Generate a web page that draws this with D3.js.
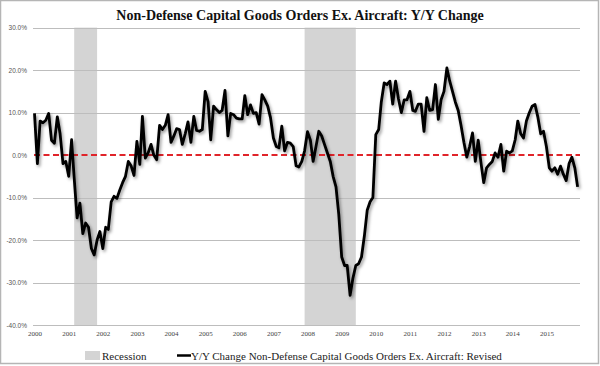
<!DOCTYPE html>
<html><head><meta charset="utf-8">
<script src="https://cdn.jsdelivr.net/npm/d3@7"></script>
<style>html,body{margin:0;padding:0;background:#fff;}svg{display:block;}</style>
</head><body>
<svg id="chart" width="600" height="366"></svg>
<script>
const title = "Non-Defense Capital Goods Orders Ex. Aircraft: Y/Y Change";
const seriesName = "Y/Y Change Non-Defense Capital Goods Orders Ex. Aircraft: Revised";
const recessionName = "Recession";
const startMonth = "2000-01";
// monthly Y/Y % change, Jan 2000 onward
const values = [
 9.8,-2.0,8.0,7.6,8.2,9.8,3.5,2.8,9.0,5.0,-2.0,-1.5,
 -5.0,3.6,-5.5,-14.8,-11.3,-18.5,-16.0,-17.0,-22.0,-23.5,-20.0,-18.0,
 -22.0,-17.0,-17.5,-11.0,-9.7,-10.2,-8.3,-6.5,-5.0,-1.5,-2.6,-4.8,
 3.2,-2.2,9.1,-0.7,0.5,2.5,0.0,-1.1,7.0,6.0,7.0,9.5,
 3.0,4.5,6.2,6.0,2.5,5.0,7.8,3.0,9.1,5.8,5.6,6.0,
 15.0,12.5,3.6,11.5,10.7,10.0,10.5,15.2,4.5,9.8,9.5,8.7,
 8.5,8.5,14.0,9.5,11.8,9.8,10.0,7.3,14.2,13.0,11.5,8.8,
 4.0,2.0,1.7,6.8,1.0,3.0,2.8,2.0,-2.5,-2.8,-1.5,1.0,
 5.5,3.5,-1.5,2.0,5.6,4.5,2.5,0.5,-1.5,-5.0,-7.5,-14.0,
 -24.0,-26.0,-26.0,-33.0,-29.0,-26.0,-25.6,-24.0,-19.0,-13.0,-11.0,-10.0,
 4.8,6.0,12.5,17.0,16.6,17.4,12.0,17.4,13.2,10.0,13.0,13.0,
 15.0,10.5,10.3,12.0,12.0,5.6,13.5,10.5,10.7,16.6,8.4,13.0,
 15.0,20.5,17.5,15.0,12.5,10.5,7.0,3.0,-0.5,2.0,5.2,-1.5,
 3.5,-2.0,-6.5,-3.0,-2.2,-1.5,0.5,-0.5,2.5,-3.8,0.9,0.5,
 1.0,3.6,8.0,5.0,4.0,8.0,9.9,11.5,11.9,9.0,5.0,5.6,
 2.0,-3.0,-3.8,-3.0,-4.5,-2.6,-4.5,-6.0,-2.0,-0.5,-3.0,-7.5
];
const recessionStarts = ["2001-03","2007-12"];
const recessionEnds = ["2001-11","2009-06"];
const yTicks = [30,20,10,0,-10,-20,-30,-40];
const yTickLabels = ["30.0%","20.0%","10.0%","0.0%","-10.0%","-20.0%","-30.0%","-40.0%"];
const xTickLabels = ["2000","2001","2002","2003","2004","2005","2006","2007","2008","2009","2010","2011","2012","2013","2014","2015"];

const parseM = d3.timeParse("%Y-%m");
const t0 = parseM(startMonth);
const data = values.map((v,i)=>({date:d3.timeMonth.offset(t0,i), v}));

const svg = d3.select("#chart");
const defs = svg.append("defs");
const f = defs.append("filter").attr("id","sh").attr("x","-10%").attr("y","-10%").attr("width","120%").attr("height","120%");
f.append("feDropShadow").attr("dx",1.5).attr("dy",2).attr("stdDeviation",1.4).attr("flood-color","#000").attr("flood-opacity",0.4);

const x = d3.scaleTime().domain([t0, parseM("2016-01")]).range([34.5, 580.5]);
const y = d3.scaleLinear().domain([-40,30]).range([325,27.6]);

// frame
svg.append("rect").attr("x",0.5).attr("y",0.5).attr("width",598).attr("height",363)
  .attr("fill","none").attr("stroke","#b5b5b5").attr("stroke-width",1.5);

// title
svg.append("text").attr("x",300).attr("y",20).attr("text-anchor","middle")
  .attr("font-family","Liberation Serif, serif").attr("font-weight","bold").attr("font-size",14)
  .attr("fill","#111").text(title);

// recession bands
svg.append("g").selectAll("rect").data(recessionStarts).join("rect")
  .attr("x",(d)=>x(parseM(d)))
  .attr("width",(d,i)=>x(parseM(recessionEnds[i]))-x(parseM(d)))
  .attr("y",y(30)).attr("height",y(-40)-y(30))
  .attr("fill","#d4d4d4");

// gridlines
svg.append("g").selectAll("line").data(yTicks.filter(v=>v!==0)).join("line")
  .attr("x1",33).attr("x2",580).attr("y1",d=>Math.round(y(d))+0.5).attr("y2",d=>Math.round(y(d))+0.5)
  .attr("stroke","#bdbdbd").attr("stroke-width",1);

// y labels
const yAxis = d3.axisLeft(y).tickValues(yTicks).tickSize(0).tickPadding(0)
  .tickFormat((d,i)=>yTickLabels[i]);
const gy = svg.append("g").attr("transform","translate(27,0)").call(yAxis);
gy.select(".domain").remove();
gy.selectAll("text").attr("font-family","Liberation Sans, Arial, sans-serif").attr("font-size",6.5).attr("fill","#555");

// x labels
const xAxis = d3.axisBottom(x).tickValues(xTickLabels.map(s=>parseM(s+"-01"))).tickSize(0).tickPadding(0)
  .tickFormat((d,i)=>xTickLabels[i]);
const gx = svg.append("g").attr("transform","translate(0,331)").call(xAxis);
gx.select(".domain").remove();
gx.selectAll("text").attr("font-family","Liberation Serif, serif").attr("font-size",7).attr("fill","#444");

// zero dashed line
svg.append("line").attr("x1",34).attr("x2",580).attr("y1",y(0)).attr("y2",y(0))
  .attr("stroke","#e0242a").attr("stroke-width",2).attr("stroke-dasharray","6,3.5");

// series line
const line = d3.line().x(d=>x(d.date)).y(d=>y(d.v)).curve(d3.curveLinear);
svg.append("path").datum(data).attr("d",line).attr("fill","none")
  .attr("stroke","#000").attr("stroke-width",2.8).attr("stroke-linejoin","round")
  .attr("filter","url(#sh)");

// legend
const lg = svg.append("g").attr("font-family","Liberation Serif, serif").attr("font-size",11).attr("fill","#222");
lg.append("rect").attr("x",85).attr("y",351).attr("width",15).attr("height",9).attr("fill","#d4d4d4");
lg.append("text").attr("x",102).attr("y",359.5).text(recessionName);
lg.append("line").attr("x1",177).attr("x2",191).attr("y1",355.5).attr("y2",355.5).attr("stroke","#000").attr("stroke-width",2.5);
lg.append("text").attr("x",191).attr("y",359.5).text(seriesName);
</script>
</body></html>
